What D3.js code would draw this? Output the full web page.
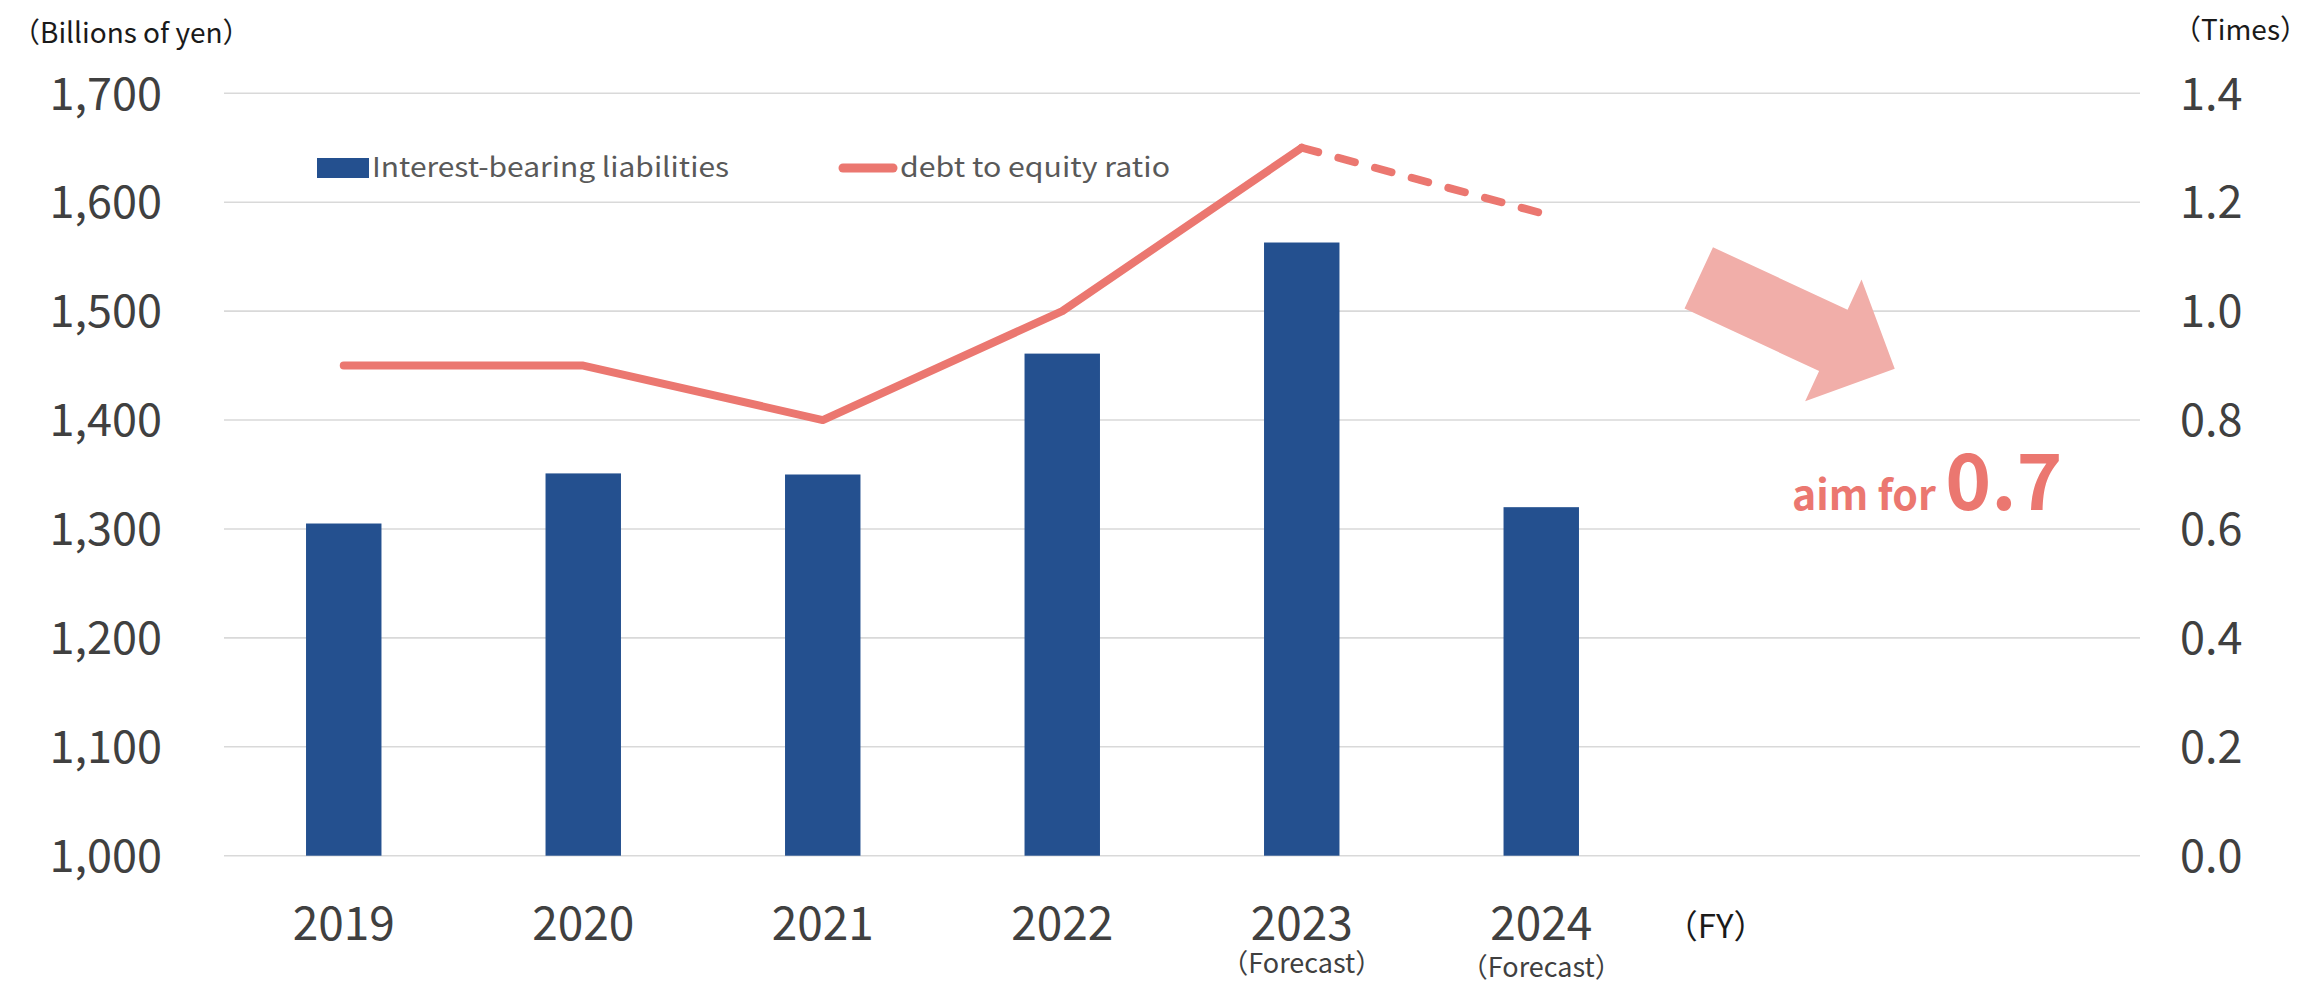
<!DOCTYPE html>
<html>
<head>
<meta charset="utf-8">
<script src="https://cdn.jsdelivr.net/npm/d3@7"></script>
<style>
  html, body { margin: 0; padding: 0; background: #ffffff; }
  svg { display: block; }
  text { font-family: "Noto Sans CJK JP", "Noto Sans", sans-serif; }
</style>
</head>
<body>
<svg id="chart" width="2311" height="986"></svg>
<script>
// Fiscal years shown on the axis
const years = ["2019", "2020", "2021", "2022", "2023", "2024"];
const yearNotes = ["", "", "", "", "（Forecast）", "（Forecast）"];
// Interest-bearing liabilities (billions of yen)
const liabilities = [1305, 1351, 1350, 1461, 1563, 1320];
// Debt to equity ratio (times); last value is a forecast
const deRatio = [0.9, 0.9, 0.8, 1.0, 1.3, 1.18];
const forecastFrom = 4;   // index where the dashed forecast segment begins
// Axis ticks
const leftTicks = [1000, 1100, 1200, 1300, 1400, 1500, 1600, 1700];
const rightTicks = [0, 0.2, 0.4, 0.6, 0.8, 1.0, 1.2, 1.4];
const slotCount = 8;      // two trailing slots hold the target annotation
const targetRatio = "0.7";

const svg = d3.select("#chart");
const plot = { left: 224, right: 2140, top: 93.3, bottom: 855.7 };

const x = d3.scaleBand()
  .domain(d3.range(slotCount))
  .range([plot.left, plot.right])
  .paddingInner(0.685)
  .paddingOuter(0.3425);

const yLeft = d3.scaleLinear().domain([1000, 1700]).range([plot.bottom, plot.top]);
const yRight = d3.scaleLinear().domain([0, 1.4]).range([plot.bottom, plot.top]);

const barColor = "#24508F";
const lineColor = "#EB7770";

// Horizontal gridlines
svg.append("g")
  .selectAll("line")
  .data(leftTicks)
  .join("line")
  .attr("x1", plot.left).attr("x2", plot.right)
  .attr("y1", d => yLeft(d)).attr("y2", d => yLeft(d))
  .attr("stroke", "#D9D9D9").attr("stroke-width", 1.6);

// Left axis
const leftAxis = svg.append("g")
  .attr("transform", `translate(${plot.left - 62},0)`)
  .call(d3.axisLeft(yLeft).tickValues(leftTicks).tickFormat(d3.format(",")).tickSize(0).tickPadding(0));
leftAxis.select(".domain").remove();
leftAxis.selectAll("text")
  .attr("fill", "#404040").attr("font-size", 45)
  .attr("font-family", "'Noto Sans CJK JP', 'Noto Sans', sans-serif")
  .attr("dy", "0.35em");

// Right axis
const rightAxis = svg.append("g")
  .attr("transform", `translate(${plot.right + 40},0)`)
  .call(d3.axisRight(yRight).tickValues(rightTicks).tickFormat(d3.format(".1f")).tickSize(0).tickPadding(0));
rightAxis.select(".domain").remove();
rightAxis.selectAll("text")
  .attr("fill", "#404040").attr("font-size", 45)
  .attr("font-family", "'Noto Sans CJK JP', 'Noto Sans', sans-serif")
  .attr("dy", "0.35em");

// Axis unit labels
svg.append("text").attr("x", 12).attr("y", 43)
  .attr("font-size", 28).attr("fill", "#1a1a1a")
  .text("（Billions of yen）");
svg.append("text").attr("x", 2308).attr("y", 40)
  .attr("text-anchor", "end")
  .attr("font-size", 28).attr("fill", "#1a1a1a")
  .text("（Times）");

// Bars
svg.append("g")
  .selectAll("rect")
  .data(liabilities)
  .join("rect")
  .attr("x", (d, i) => x(i))
  .attr("width", x.bandwidth())
  .attr("y", d => yLeft(d))
  .attr("height", d => yLeft(1000) - yLeft(d))
  .attr("fill", barColor);

// Debt to equity ratio line: actuals solid, forecast dashed
const pts = deRatio.map((v, i) => [x(i) + x.bandwidth() / 2, yRight(v)]);
const line = d3.line();
svg.append("path")
  .attr("d", line(pts.slice(0, forecastFrom + 1)))
  .attr("fill", "none").attr("stroke", lineColor)
  .attr("stroke-width", 8).attr("stroke-linecap", "round").attr("stroke-linejoin", "round");
svg.append("path")
  .attr("d", line(pts.slice(forecastFrom)))
  .attr("fill", "none").attr("stroke", lineColor)
  .attr("stroke-width", 8).attr("stroke-linecap", "round")
  .attr("stroke-dasharray", "17 21");

// Year labels
const xLabels = svg.append("g");
xLabels.selectAll("text.year")
  .data(years)
  .join("text")
  .attr("class", "year")
  .attr("x", (d, i) => x(i) + x.bandwidth() / 2)
  .attr("y", 940)
  .attr("text-anchor", "middle")
  .attr("font-size", 46).attr("fill", "#404040")
  .text(d => d);
xLabels.selectAll("text.note")
  .data(yearNotes)
  .join("text")
  .attr("class", "note")
  .attr("x", (d, i) => x(i) + x.bandwidth() / 2)
  .attr("y", (d, i) => 973 + (i - forecastFrom) * 4)
  .attr("text-anchor", "middle")
  .attr("font-size", 27).attr("fill", "#404040")
  .text(d => d);
svg.append("text")
  .attr("x", x(slotCount - 2) + x.bandwidth() / 2 - 116)
  .attr("y", 938)
  .attr("font-size", 33).attr("fill", "#1a1a1a")
  .text("（FY）");

// Legend
const legend = svg.append("g");
legend.append("rect").attr("x", 317).attr("y", 158).attr("width", 52).attr("height", 20).attr("fill", barColor);
legend.append("text").attr("x", 372).attr("y", 177)
  .attr("font-size", 27).attr("fill", "#595959")
  .attr("textLength", 357).attr("lengthAdjust", "spacingAndGlyphs")
  .text("Interest-bearing liabilities");
legend.append("line").attr("x1", 843).attr("x2", 893).attr("y1", 168).attr("y2", 168)
  .attr("stroke", lineColor).attr("stroke-width", 9).attr("stroke-linecap", "round");
legend.append("text").attr("x", 900).attr("y", 177)
  .attr("font-size", 27).attr("fill", "#595959")
  .attr("textLength", 270).attr("lengthAdjust", "spacingAndGlyphs")
  .text("debt to equity ratio");

// Downward target arrow built along its axis from tail to tip
function blockArrow(tail, tip, shaftHalf, headHalf, headLen) {
  const dx = tip[0] - tail[0], dy = tip[1] - tail[1];
  const len = Math.hypot(dx, dy);
  const ux = dx / len, uy = dy / len;
  const nx = -uy, ny = ux;
  const bx = tip[0] - ux * headLen, by = tip[1] - uy * headLen;
  return [
    [tail[0] - nx * shaftHalf, tail[1] - ny * shaftHalf],
    [bx - nx * shaftHalf, by - ny * shaftHalf],
    [bx - nx * headHalf, by - ny * headHalf],
    tip,
    [bx + nx * headHalf, by + ny * headHalf],
    [bx + nx * shaftHalf, by + ny * shaftHalf],
    [tail[0] + nx * shaftHalf, tail[1] + ny * shaftHalf]
  ];
}
const arrowTail = [x(slotCount - 2) + x.bandwidth() / 2 - 82, yRight(1.061)];
const arrowTip = [x(slotCount - 2) + x.bandwidth() / 2 + 114, yRight(0.894)];
svg.append("polygon")
  .attr("points", blockArrow(arrowTail, arrowTip, 33.8, 67, 67.7).map(p => p.join(",")).join(" "))
  .attr("fill", "#F1AEA9");

// Target text
const target = svg.append("text")
  .attr("x", 1792).attr("y", 510)
  .attr("fill", lineColor).attr("font-weight", "bold");
target.append("tspan").attr("font-size", 41).text("aim for ");
target.append("tspan").attr("font-size", 78).text(targetRatio);
</script>
</body>
</html>
